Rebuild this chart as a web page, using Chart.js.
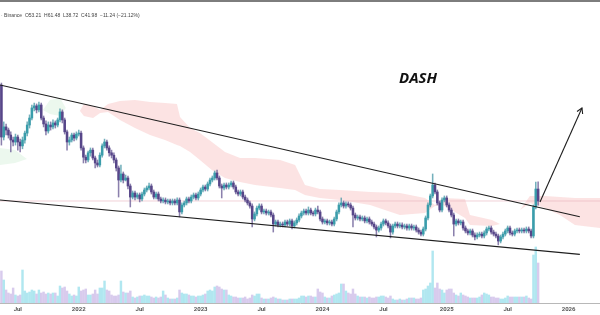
<!DOCTYPE html>
<html><head><meta charset="utf-8">
<script src="https://cdn.jsdelivr.net/npm/chart.js@4.4.0/dist/chart.umd.min.js"></script>
<style>
html,body{margin:0;padding:0;background:#fff;}
#wrap{position:relative;width:600px;height:315px;overflow:hidden;background:#fff;}
#c{position:absolute;left:0;top:0;}
#topbar{position:absolute;left:0;top:0;width:600px;height:2px;background:#7d7d7d;}
#hdr{position:absolute;left:1px;top:12px;font:5px 'Liberation Sans',sans-serif;color:#444;white-space:pre;line-height:6px;}
#title{position:absolute;left:399px;top:70px;font:italic bold 15px 'Open Sans',sans-serif;color:#111;line-height:15px;}
</style></head><body>
<div id="wrap"><canvas id="c" width="600" height="315"></canvas><div id="topbar"></div><div id="hdr">· Binance  O53.21  H61.48  L38.72  C41.98  −11.24 (−21.12%)</div><div id="title">DASH</div></div>
<script>
// weekly candles (index 0 = week of 17 May 2021)
const opens = [417,149,182,171,155,140.5,135,149,135,125,
140.5,161,189,217,265,276,255,281,217,193,
168,189,182,197,189,209,245,209,165,135,
140.5,155,146,158,161,120,100,94.6,109,115,
98.4,89.1,85.6,104,125,135,120,109,104,94.6,
80.7,63.6,71.7,63.6,66.2,56.5,45.4,49.2,45.4,47.3,
43.7,48.2,52.2,54.3,56.5,50.2,45.4,48.2,43.7,42.0,
42.8,41.2,42.0,40.4,42.0,40.4,42.8,33.8,38.8,40.4,
43.7,42.0,45.4,47.3,44.6,48.2,52.2,55.4,53.2,58.8,
63.6,66.2,73.1,66.2,56.5,54.3,57.6,55.4,57.6,60.0,
55.4,50.2,48.2,50.2,45.4,42.8,40.4,38.0,29.4,32.5,
36.5,38.0,33.8,34.4,33.1,33.8,31.8,26.6,27.7,26.1,
26.6,26.1,27.7,26.6,28.3,25.6,27.2,28.8,31.2,33.1,
34.4,33.1,35.1,33.1,32.5,35.1,33.8,29.4,27.7,28.3,
27.2,27.7,26.6,29.4,33.8,38.8,40.4,38.0,39.6,38.8,
36.5,31.8,30.0,30.6,29.4,30.0,28.3,29.4,27.7,26.6,
25.1,23.6,24.6,26.6,28.3,27.2,25.6,22.7,25.6,26.6,
25.6,26.1,25.1,25.6,24.6,25.6,24.6,25.1,23.6,22.7,
21.8,24.1,30.0,38.8,46.4,57.6,50.2,40.4,35.1,42.8,
44.6,38.8,35.1,31.8,26.6,28.3,27.2,27.7,24.6,23.2,
22.3,23.2,21.4,20.6,21.4,21.8,21.0,22.3,24.1,24.6,
22.7,21.8,21.0,19.0,20.6,21.8,23.2,24.6,22.3,21.8,
23.2,23.6,23.2,23.6,23.2,24.1,23.2,21.0,37.3,53.21];
const highs = [434,201,193,178,165,149,158,155,143,149,
168,201,231,281,292,287,298,292,226,205,
201,201,209,205,217,260,255,217,171,149,
161,161,165,171,168,125,104,113,120,120,
102,94.6,109,130,143,140.5,125,115,109,98.4,
84.0,85.6,74.6,70.2,68.9,58.8,51.2,51.2,49.2,49.2,
50.2,54.3,56.5,60.0,58.8,52.2,50.2,50.2,45.4,44.6,
44.6,43.7,43.7,43.7,43.7,44.6,44.6,40.4,42.0,45.4,
45.4,47.3,49.2,49.2,50.2,54.3,57.6,57.6,61.2,66.2,
68.9,76.0,77.6,68.9,58.8,60.0,60.0,60.0,62.4,62.4,
57.6,52.2,52.2,52.2,47.3,44.6,42.0,39.6,33.8,38.0,
39.6,39.6,35.8,35.8,35.1,35.1,33.1,28.8,28.8,27.7,
27.7,28.8,28.8,29.4,29.4,28.3,30.0,32.5,34.4,35.8,
35.8,37.3,36.5,34.4,36.5,38.0,35.1,30.6,29.4,29.4,
28.8,28.8,30.6,35.1,40.4,44.6,42.0,41.2,41.2,40.4,
38.0,33.1,31.8,31.8,31.2,31.2,30.6,30.6,28.8,27.7,
26.1,25.6,27.7,29.4,29.4,28.3,26.6,26.6,27.7,27.7,
27.2,27.2,26.6,26.6,26.6,26.6,26.1,26.1,24.6,23.6,
25.1,31.2,40.4,48.2,71.7,60.0,52.2,42.0,44.6,46.4,
46.4,40.4,36.5,33.1,29.4,29.4,28.8,28.8,25.6,24.1,
24.1,24.1,22.3,22.3,22.7,22.7,23.2,25.1,25.6,25.6,
23.6,22.7,21.8,21.4,22.7,24.1,25.6,25.6,23.2,24.1,
24.6,24.6,24.6,24.6,25.1,25.1,24.1,38.8,61.2,61.48];
const lows = [127,140.5,155,146,111,125,127,115,111,118,
132,152,178,209,250,240,245,209,182,155,
161,171,175,178,182,201,197,158,115,127,
135,138,140.5,152,115,89.1,89.1,90.9,102,94.6,
80.7,82.3,82.3,100,120,115,102,98.4,89.1,76.0,
45.4,61.2,60.0,62.4,53.2,37.3,43.7,42.8,43.7,41.2,
42.0,46.4,50.2,52.2,48.2,43.7,43.7,42.0,40.4,40.4,
39.6,39.6,38.8,38.8,38.8,38.8,30.6,32.5,37.3,38.8,
40.4,40.4,43.7,42.8,42.8,46.4,50.2,51.2,51.2,56.5,
61.2,63.6,63.6,54.3,44.6,52.2,53.2,53.2,55.4,53.2,
48.2,46.4,46.4,43.7,41.2,38.8,36.5,25.1,28.3,31.2,
35.1,32.5,32.5,31.8,31.8,30.6,22.7,25.6,25.1,25.1,
25.1,25.1,25.6,25.6,24.1,24.6,26.1,27.7,30.0,31.8,
31.8,31.8,31.8,31.2,31.2,32.5,28.3,26.6,26.6,26.1,
26.1,25.6,25.6,28.3,32.5,37.3,36.5,36.5,37.3,35.1,
25.1,28.8,28.8,28.3,28.3,27.2,27.2,26.6,25.6,24.1,
20.6,22.7,23.6,25.6,26.1,24.6,20.2,21.8,24.6,24.6,
24.6,24.1,24.1,23.6,23.6,23.6,23.6,22.7,21.8,21.0,
21.0,23.2,28.8,37.3,44.6,48.2,38.8,33.8,33.8,41.2,
37.3,33.8,30.6,21.0,25.6,26.1,26.1,23.6,22.3,21.4,
21.4,20.6,19.4,19.8,20.6,20.2,20.2,21.4,23.2,21.8,
21.0,20.2,17.6,18.3,19.8,21.0,22.3,21.4,21.0,21.0,
22.3,22.3,22.3,22.3,22.3,22.3,20.2,20.2,35.8,38.72];
const closes = [149,182,171,155,140.5,135,149,135,125,140.5,
161,189,217,265,276,255,281,217,193,168,
189,182,197,189,209,245,209,165,135,140.5,
155,146,158,161,120,100,94.6,109,115,98.4,
89.1,85.6,104,125,135,120,109,104,94.6,80.7,
63.6,71.7,63.6,66.2,56.5,45.4,49.2,45.4,47.3,43.7,
48.2,52.2,54.3,56.5,50.2,45.4,48.2,43.7,42.0,42.8,
41.2,42.0,40.4,42.0,40.4,42.8,33.8,38.8,40.4,43.7,
42.0,45.4,47.3,44.6,48.2,52.2,55.4,53.2,58.8,63.6,
66.2,73.1,66.2,56.5,54.3,57.6,55.4,57.6,60.0,55.4,
50.2,48.2,50.2,45.4,42.8,40.4,38.0,29.4,32.5,36.5,
38.0,33.8,34.4,33.1,33.8,31.8,26.6,27.7,26.1,26.6,
26.1,27.7,26.6,28.3,25.6,27.2,28.8,31.2,33.1,34.4,
33.1,35.1,33.1,32.5,35.1,33.8,29.4,27.7,28.3,27.2,
27.7,26.6,29.4,33.8,38.8,40.4,38.0,39.6,38.8,36.5,
31.8,30.0,30.6,29.4,30.0,28.3,29.4,27.7,26.6,25.1,
23.6,24.6,26.6,28.3,27.2,25.6,22.7,25.6,26.6,25.6,
26.1,25.1,25.6,24.6,25.6,24.6,25.1,23.6,22.7,21.8,
24.1,30.0,38.8,46.4,57.6,50.2,40.4,35.1,42.8,44.6,
38.8,35.1,31.8,26.6,28.3,27.2,27.7,24.6,23.2,22.3,
23.2,21.4,20.6,21.4,21.8,21.0,22.3,24.1,24.6,22.7,
21.8,21.0,19.0,20.6,21.8,23.2,24.6,22.3,21.8,23.2,
23.6,23.2,23.6,23.2,24.1,23.2,21.0,37.3,53.21,41.98];
const volumes = [320,230,130,100,90,150,80,70,80,330,
120,100,110,130,120,90,130,100,110,90,
100,90,100,100,70,170,150,160,120,90,
70,80,70,160,120,130,140,80,80,90,
130,90,150,150,220,130,120,80,70,70,
80,220,110,100,100,120,60,50,60,70,
70,80,70,70,60,50,60,50,60,120,
80,50,40,40,40,50,130,100,90,90,
80,70,70,60,70,70,80,90,120,130,
120,160,170,160,140,130,130,80,70,60,
60,50,50,50,60,40,50,80,70,90,
90,50,40,40,40,50,60,50,40,40,
30,30,30,40,40,40,40,50,70,70,
60,70,70,60,60,140,110,100,60,50,
50,70,80,90,100,190,190,120,100,90,
140,90,70,60,60,60,50,60,50,50,
60,60,70,70,60,50,70,40,30,30,
40,30,30,40,50,50,50,40,40,50,
130,140,170,200,520,150,200,140,130,100,
130,140,140,100,80,70,100,80,70,60,
50,50,50,50,60,80,100,90,80,60,
60,50,50,40,40,50,70,60,60,60,
60,60,60,60,70,50,40,480,560,400];

// x-axis ticks (week index) and labels
const tickPos = [7, 33, 59, 85, 111, 137, 163, 190, 216, 242];
const tickLabels = ['Jul','2022','Jul','2023','Jul','2024','Jul','2025','Jul','2026'];

// Ichimoku cloud (week index, span top, span bottom)
const cloudX = [33.5,35.2,39.1,42.1,45.5,50.6,57.0,63.4,69.8,74.9,76.2,80.5,84.7,89.8,95.4,101.8,108.2,118.9,125.3,129.5,135.9,144.5,157.3,170.0,180.7,185.0,188.4,197.8,199.9,209.3,212.7,221.3,225.5,231.9,238.3,244.7,255.4];
const cloudTop = [250,287,276,255,287,304,310,298,292,287,222,178,161,135,111,98.4,98.4,94.6,85.6,57.6,53.2,52.2,50.2,49.2,44.6,38.8,44.6,43.7,31.8,28.8,26.6,35.1,46.4,46.4,45.4,44.6,44.6];
const cloudBot = [250,226,217,240,245,209,178,155,140.5,127,125,111,94.6,77.6,66.2,61.2,57.6,54.3,52.2,47.3,44.6,42.8,38.8,31.8,33.1,38.0,38.8,30.0,26.1,25.6,26.6,35.1,40.4,36.5,31.8,26.1,24.6];
const greenX = [-0.6,5.8,10.9,17.7,20.7,25.0,27.5];
const greenTop = [120,115,96.4,255,310,323,265];
const greenBot = [85.6,89.1,96.4,255,235,226,265];

// drawn wedge lines and arrow (week index, price)
const upperX = [-0.6, 246.8], upperY = [417, 30.7];
const lowerX = [-0.6, 246.8], lowerY = [42.8, 14.6];
const arrowX = [229.8, 247.7], arrowY = [41.2, 264.7];
const headX = [245.6, 247.7, 248.0], headY = [247, 264.7, 235];
const lastPrice = 41.98;

const UP = '#3a9dab', DN = '#574689';
const idx = closes.map((_, i) => i);
const up = idx.map(i => closes[i] >= opens[i]);
const pts = (xs, ys) => xs.map((x, i) => ({x: x, y: ys[i]}));
const lineDs = (xs, ys, color, w, order) => ({type:'line', data: pts(xs, ys), borderColor: color, borderWidth: w, pointRadius: 0, fill: false, tension: 0, order: order, yAxisID: 'y'});

const datasets = [
  {type:'line', data: pts(cloudX, cloudTop), borderWidth: 0, borderColor:'rgba(0,0,0,0)', pointRadius: 0, fill: false, order: 30, yAxisID: 'y'},
  {type:'line', data: pts(cloudX, cloudBot), borderWidth: 0, borderColor:'rgba(0,0,0,0)', pointRadius: 0, fill: '-1', backgroundColor: 'rgba(250,200,200,0.5)', order: 29, yAxisID: 'y'},
  {type:'line', data: pts(greenX, greenTop), borderWidth: 0, borderColor:'rgba(0,0,0,0)', pointRadius: 0, fill: false, order: 28, yAxisID: 'y'},
  {type:'line', data: pts(greenX, greenBot), borderWidth: 0, borderColor:'rgba(0,0,0,0)', pointRadius: 0, fill: '-1', backgroundColor: 'rgba(200,235,205,0.35)', order: 27, yAxisID: 'y'},
  {type:'bar', data: idx.map(i => ({x: i, y: volumes[i]})), yAxisID: 'v', grouped: false, barThickness: 1.8, minBarLength: 1,
   backgroundColor: idx.map(i => up[i] ? 'rgba(125,215,230,0.6)' : 'rgba(195,175,228,0.65)'), order: 20},
  lineDs([-0.6, 255.4], [lastPrice, lastPrice], 'rgba(230,175,185,0.7)', 0.8, 15),
  {type:'bar', data: idx.map(i => ({x: i, y: [lows[i], highs[i]]})), yAxisID: 'y', grouped: false, barThickness: 0.9,
   backgroundColor: idx.map(i => up[i] ? 'rgba(70,150,165,0.75)' : 'rgba(100,85,145,0.75)'), order: 6},
  {type:'bar', data: idx.map(i => ({x: i, y: [opens[i], closes[i]]})), yAxisID: 'y', grouped: false, barThickness: 1.9, minBarLength: 1,
   backgroundColor: idx.map(i => up[i] ? UP : DN), order: 5},
  lineDs(upperX, upperY, '#1e1e1e', 1.1, 2),
  lineDs(lowerX, lowerY, '#1e1e1e', 1.1, 2),
  lineDs(arrowX, arrowY, '#1e1e1e', 1.1, 1),
  lineDs(headX, headY, '#1e1e1e', 1.1, 1)
];

new Chart(document.getElementById('c'), {
  type: 'bar',
  data: { datasets: datasets },
  options: {
    responsive: false, animation: false, devicePixelRatio: 1,
    layout: { padding: 0 },
    plugins: { legend: { display: false }, tooltip: { enabled: false } },
    scales: {
      x: {
        type: 'linear', min: -0.6, max: 255.4, offset: false,
        grid: { display: false, drawTicks: false },
        border: { display: true, color: '#b8b8b8', width: 1 },
        afterBuildTicks: s => { s.ticks = tickPos.map(v => ({ value: v })); },
        afterFit: s => { s.height = 12; },
        ticks: {
          autoSkip: false, maxRotation: 0, padding: 3, color: '#555',
          font: { size: 6, family: 'Roboto', weight: 'bold' },
          callback: v => { const j = tickPos.indexOf(v); return j < 0 ? '' : tickLabels[j]; }
        }
      },
      y: { type: 'logarithmic', min: 5.57, max: 2247, display: false },
      v: { type: 'linear', min: 0, max: 3030, display: false }
    }
  }
});
</script></body></html>
